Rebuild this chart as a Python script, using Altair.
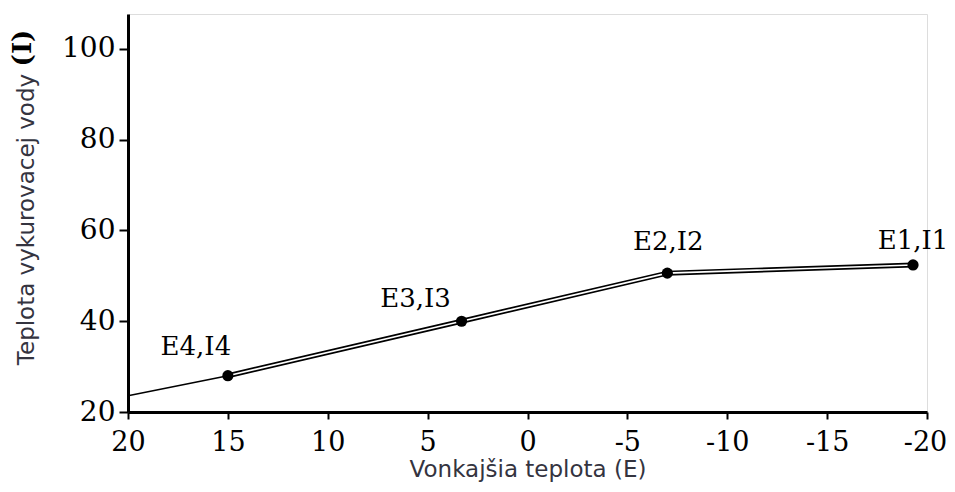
import altair as alt
import pandas as pd

# Heating curve: outdoor temperature (E) vs heating water temperature (I)
curve_e = [20, 15, 3.3, -7, -19.3]
curve_i = [23.6, 28, 40, 50.6, 52.4]
point_labels = ["", "E4,I4", "E3,I3", "E2,I2", "E1,I1"]

x_ticks = [20, 15, 10, 5, 0, -5, -10, -15, -20]
y_ticks = [20, 40, 60, 80, 100]

df = pd.DataFrame({"E": curve_e, "I": curve_i, "label": point_labels})
pts = df[df["label"] != ""]

serif = "DejaVu Serif"
sans = "DejaVu Sans"
title_color = "#34343f"

x_enc = alt.X(
    "E:Q",
    scale=alt.Scale(domain=[-20, 20], reverse=True, nice=False, zero=False),
    axis=alt.Axis(
        values=x_ticks, title="Vonkajšia teplota (E)", grid=False, labelFlush=False,
        labelExpr="datum.value + ''",
        labelOffset={"condition": {"test": "datum.value == -20", "value": -2}, "value": 0},
        domainColor="black", domainWidth=3, tickColor="black", tickWidth=2, tickSize=7,
        labelFont=serif, labelFontSize=27, labelColor="black", labelPadding=10,
        titleFont=sans, titleFontSize=23, titleFontWeight="normal", titleColor=title_color,
        titlePadding=3,
    ),
)
y_enc = alt.Y(
    "I:Q",
    scale=alt.Scale(domain=[20, 107.7], nice=False, zero=False),
    axis=alt.Axis(
        values=y_ticks, title="Teplota vykurovacej vody", grid=False, labelFlush=False,
        domainColor="black", domainWidth=3, tickColor="black", tickWidth=2, tickSize=9,
        labelFont=serif, labelFontSize=28, labelColor="black", labelPadding=4,
        titleFont=sans, titleFontSize=23, titleFontWeight="normal", titleColor=title_color,
        titleX=-90, titleY=205,
    ),
)

base = alt.Chart(df).encode(x=x_enc, y=y_enc)

thin = base.mark_line(color="black", strokeWidth=1.5)
tube = base.transform_filter("datum.E <= 15")
outer = tube.mark_line(color="black", strokeWidth=5)
inner = tube.mark_line(color="white", strokeWidth=1.6)
dots = alt.Chart(pts).mark_circle(color="black", opacity=1, size=125).encode(x="E:Q", y="I:Q")

offsets = {"E4,I4": (-32, -29), "E3,I3": (-46, -22), "E2,I2": (1, -31), "E1,I1": (0, -24)}
texts = []
for lab, (dx, dy) in offsets.items():
    texts.append(
        alt.Chart(pts).transform_filter(alt.datum.label == lab)
        .mark_text(font=serif, fontSize=26, color="black", align="center", baseline="middle", dx=dx, dy=dy)
        .encode(x="E:Q", y="I:Q", text="label:N")
    )

# Serif "(I)" completing the rotated y-axis title
unit = alt.Chart(pd.DataFrame({"t": ["(I)"]})).mark_text(
    font=serif, fontSize=26, fontWeight="bold", color="black", angle=270,
    align="center", baseline="middle",
).encode(x=alt.value(-105), y=alt.value(34), text="t:N")

chart = alt.layer(thin, outer, inner, dots, *texts, unit).properties(
    width=799, height=398,
    autosize=alt.AutoSizeParams(type="none"),
    padding={"left": 120, "top": 6, "right": 20, "bottom": 70},
).configure_view(stroke=None).configure(background="white")

chart.save("out.html", embed_options={"renderer": "svg", "actions": False})
